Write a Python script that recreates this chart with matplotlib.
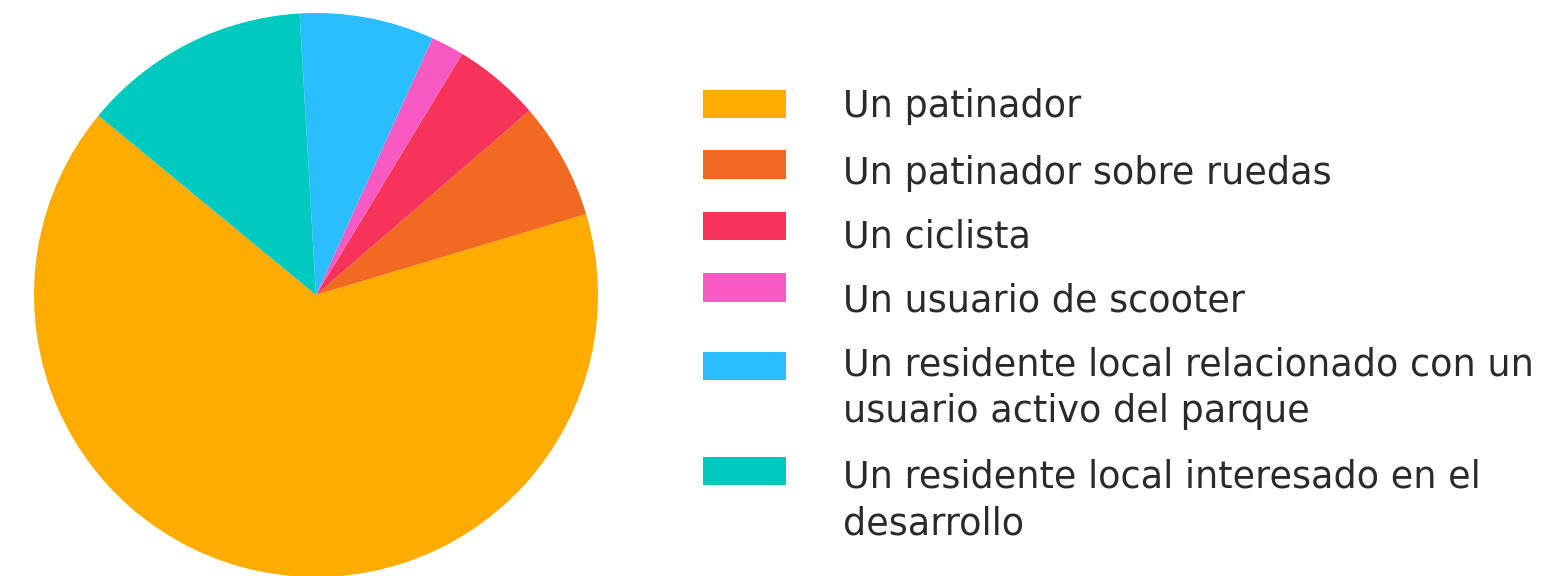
import textwrap
import matplotlib
matplotlib.use("Agg")
import matplotlib.pyplot as plt
from matplotlib.patches import Rectangle

labels = [
    "Un patinador",
    "Un patinador sobre ruedas",
    "Un ciclista",
    "Un usuario de scooter",
    "Un residente local relacionado con un usuario activo del parque",
    "Un residente local interesado en el desarrollo",
]
values = [65.6, 6.7, 5.0, 1.9, 7.7, 13.1]
colors = ["#FFAB00", "#F26A21", "#F63359", "#F85AC4", "#2ABEFE", "#00C9BF"]

W, H = 1548, 576
fig = plt.figure(figsize=(W / 100, H / 100), dpi=100)
fig.patch.set_facecolor("white")

# pie: centre (316, 295) px, radius 282 px
cx, cy, r = 316, 295, 282
ax = fig.add_axes([(cx - r) / W, (H - cy - r) / H, 2 * r / W, 2 * r / H])
ax.pie(values, colors=colors, startangle=140.5, counterclock=True,
       wedgeprops=dict(linewidth=0))
ax.set_xlim(-1, 1)
ax.set_ylim(-1, 1)
ax.set_aspect("equal")
ax.axis("off")

# legend layout (pixels from top)
square_centers = [104, 164.5, 226, 287.5, 366, 471]
text_baselines = [117, 183.5, 247, 311, 375, 487]
line_gap = 47.5
sq_x, sq_w, sq_h = 703, 83, 28.5
txt_x = 843
for lab, col, yc, yb in zip(labels, colors, square_centers, text_baselines):
    fig.patches.append(Rectangle((sq_x / W, (H - yc - sq_h / 2) / H), sq_w / W, sq_h / H,
                                 transform=fig.transFigure, facecolor=col,
                                 edgecolor="none"))
    for i, line in enumerate(textwrap.wrap(lab, 37)):
        fig.text(txt_x / W, (H - yb - i * line_gap) / H, line, fontsize=26.3,
                 family="DejaVu Sans", color="#2a2a2a", va="baseline", ha="left")

fig.savefig("out.png", dpi=100, facecolor="white")
